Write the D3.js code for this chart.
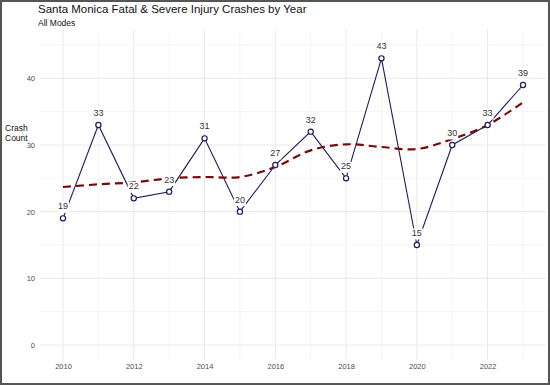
<!DOCTYPE html>
<html>
<head>
<meta charset="utf-8">
<script src="https://cdn.jsdelivr.net/npm/d3@7.9.0/dist/d3.min.js"></script>
<style>
  body { margin: 0; background: #fff; }
  svg { display: block; font-family: "Liberation Sans", Arial, sans-serif; }
</style>
</head>
<body>
<svg id="chart" width="550" height="385"></svg>
<script>
// crash counts by year
const years = [2010, 2011, 2012, 2013, 2014, 2015, 2016, 2017, 2018, 2019, 2020, 2021, 2022, 2023];
const crashes = [19, 33, 22, 23, 31, 20, 27, 32, 25, 43, 15, 30, 33, 39];
// smoothed trend
const trend = [23.7, 24.1, 24.4, 25.0, 25.2, 25.2, 26.7, 29.2, 30.1, 29.7, 29.4, 30.9, 33.0, 36.4];
const yTicks = [0, 10, 20, 30, 40];
const xTicks = [2010, 2012, 2014, 2016, 2018, 2020, 2022];

const svg = d3.select('#chart');
const W = 550, H = 385;
const panel = { left: 40, right: 546, top: 30, bottom: 360 };

const x = d3.scaleLinear().domain([2009.35, 2023.65]).range([panel.left, panel.right]);
const y = d3.scaleLinear().domain([-2.25, 47.25]).range([panel.bottom, panel.top]);

// gridlines (major + minor)
const grid = svg.append('g');
d3.range(2010, 2024).forEach(yr => {
    grid.append('line')
        .attr('x1', x(yr)).attr('x2', x(yr))
        .attr('y1', panel.top).attr('y2', panel.bottom)
        .attr('stroke', yr % 2 === 0 ? '#e8e8e8' : '#f2f2f2')
        .attr('stroke-width', yr % 2 === 0 ? 1 : 0.8);
});
d3.range(0, 46, 5).forEach(v => {
    grid.append('line')
        .attr('x1', panel.left).attr('x2', panel.right)
        .attr('y1', y(v)).attr('y2', y(v))
        .attr('stroke', v % 10 === 0 ? '#e8e8e8' : '#f2f2f2')
        .attr('stroke-width', v % 10 === 0 ? 1 : 0.8);
});

// axis labels
const yAxis = d3.axisLeft(y).tickValues(yTicks).tickSize(0).tickPadding(5);
svg.append('g')
    .attr('transform', `translate(${panel.left},0)`)
    .call(yAxis)
    .call(g => g.select('.domain').remove())
    .call(g => g.selectAll('text').attr('fill', '#4d4d4d').attr('font-size', 7.5).attr('font-family', null));

const xAxis = d3.axisBottom(x).tickValues(xTicks).tickFormat(d3.format('d')).tickSize(0).tickPadding(4);
svg.append('g')
    .attr('transform', `translate(0,${panel.bottom})`)
    .call(xAxis)
    .call(g => g.select('.domain').remove())
    .call(g => g.selectAll('text').attr('fill', '#4d4d4d').attr('font-size', 7.5).attr('font-family', null));

// main line
const line = d3.line().x((d, i) => x(years[i])).y(d => y(d));
svg.append('path')
    .datum(crashes)
    .attr('d', line)
    .attr('fill', 'none')
    .attr('stroke', '#1b1b5e')
    .attr('stroke-width', 1.1);

// smoothed trend line
const trendLine = d3.line().x((d, i) => x(years[i])).y(d => y(d)).curve(d3.curveCatmullRom);
svg.append('path')
    .datum(trend)
    .attr('d', trendLine)
    .attr('fill', 'none')
    .attr('stroke', '#7a0a0a')
    .attr('stroke-width', 2.2)
    .attr('stroke-dasharray', '8,5');

// labels with white background (drawn over the lines)
const labels = svg.append('g');
crashes.forEach((v, i) => {
    const lx = x(years[i]), ly = y(v) - 9;
    labels.append('rect')
        .attr('x', lx - 6).attr('y', ly - 7.5)
        .attr('width', 12).attr('height', 11)
        .attr('fill', '#fff');
    labels.append('text')
        .attr('x', lx).attr('y', ly)
        .attr('text-anchor', 'middle')
        .attr('font-size', 9)
        .attr('fill', '#333')
        .text(v);
});

// points
svg.append('g').selectAll('circle')
    .data(crashes)
    .join('circle')
    .attr('cx', (d, i) => x(years[i]))
    .attr('cy', d => y(d))
    .attr('r', 2.6)
    .attr('fill', '#fff')
    .attr('stroke', '#1b1b5e')
    .attr('stroke-width', 1.2);

// titles
svg.append('text')
    .attr('x', 38).attr('y', 13)
    .attr('font-size', 11.5)
    .attr('fill', '#111')
    .text('Santa Monica Fatal & Severe Injury Crashes by Year');
svg.append('text')
    .attr('x', 38).attr('y', 26)
    .attr('font-size', 8.5)
    .attr('fill', '#111')
    .text('All Modes');

const yLab = svg.append('text')
    .attr('x', 5).attr('y', 131)
    .attr('font-size', 8.5)
    .attr('fill', '#111');
yLab.append('tspan').attr('x', 5).text('Crash');
yLab.append('tspan').attr('x', 5).attr('dy', 10).text('Count');

// frame
svg.append('rect')
    .attr('x', 1).attr('y', 1)
    .attr('width', W - 2).attr('height', H - 2)
    .attr('fill', 'none')
    .attr('stroke', '#555')
    .attr('stroke-width', 2);
</script>
</body>
</html>
